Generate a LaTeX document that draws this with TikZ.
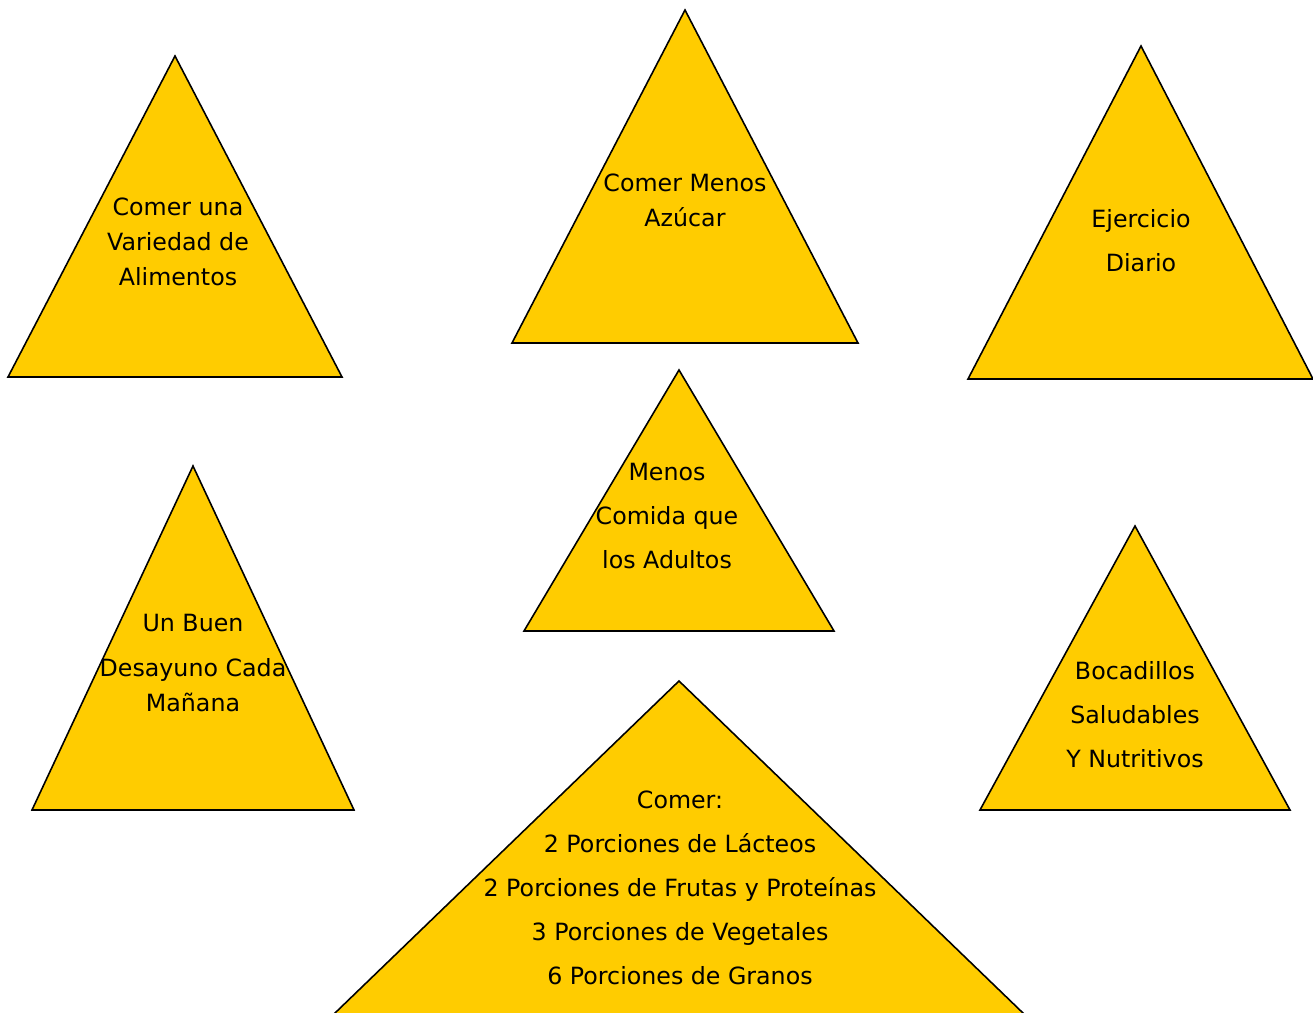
\documentclass[tikz,border=0pt]{standalone}
\usepackage{fontspec}
\setmainfont{DejaVu Sans}
\begin{document}
\begin{tikzpicture}[x=0.02cm,y=-0.02cm,
  tri/.style={draw=black,line width=0.9pt,fill=triyellow,line join=miter},
  lbl/.style={align=center,inner sep=0pt,font=\fontsize{13.5}{19.8}\selectfont},
  lblw/.style={align=center,inner sep=0pt,font=\fontsize{13.5}{25}\selectfont}]
\definecolor{triyellow}{HTML}{FFCC00}
\useasboundingbox (0,0) rectangle (1313,1013);
\begin{scope}
\clip (0,0) rectangle (1313,1013);
\draw[tri] (175,56) -- (342,377) -- (8,377) -- cycle;
\draw[tri] (685,10) -- (858,343) -- (512,343) -- cycle;
\draw[tri] (1141,46) -- (1313,379) -- (968,379) -- cycle;
\draw[tri] (679,370) -- (834,631) -- (524,631) -- cycle;
\draw[tri] (193,466) -- (354,810) -- (32,810) -- cycle;
\draw[tri] (1135,526) -- (1290,810) -- (980,810) -- cycle;
\draw[tri] (679,681) -- (1024,1014) -- (334,1014) -- cycle;
\end{scope}
\node[lbl] (t1) at (178,242) {Comer una\\Variedad de\\Alimentos};
\node[lbl] (t2) at (685,200) {Comer Menos\\Azúcar};
\node[lblw] (t3) at (1141,241) {Ejercicio\\Diario};
\node[lblw] (t4) at (667,516) {Menos\\Comida que\\los Adultos};
\node[lbl] (t5) at (193,663) {Un Buen\\[6pt]Desayuno Cada\\Mañana};
\node[lblw] (t6) at (1135,715) {Bocadillos\\Saludables\\Y Nutritivos};
\node[lblw] (t7) at (680,888) {Comer:\\2 Porciones de Lácteos\\2 Porciones de Frutas y Proteínas\\3 Porciones de Vegetales\\6 Porciones de Granos};
\end{tikzpicture}
\end{document}
